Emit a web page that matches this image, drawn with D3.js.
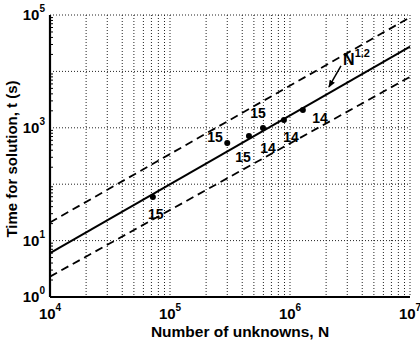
<!DOCTYPE html>
<html>
<head>
<meta charset="utf-8">
<script src="https://cdn.jsdelivr.net/npm/d3@7"></script>
<style>
  body { margin: 0; background: #fff; }
  svg { font-family: "Liberation Sans", Arial, sans-serif; font-weight: bold; }
</style>
</head>
<body>
<div id="chart"></div>
<script>
// fit line N^1.2 and the two bounds (end points)
const lineN = [1e4, 1e7];
const fitT = [6.0, 27500];
const upperT = [21, 91000];
const lowerT = [2.3, 8000];

// measured runs
const pointN = [7.2e4, 3.0e5, 4.55e5, 5.96e5, 8.9e5, 1.28e6];
const pointT = [59, 537, 716, 991, 1375, 2070];

// labels beside the runs
const labelText = ["15", "15", "15", "15", "14", "14", "14"];
const labelN = [7.6e4, 2.37e5, 5.41e5, 4.06e5, 6.56e5, 1.02e6, 1.78e6];
const labelT = [29.6, 687, 1830, 304, 438, 687, 1490];

const xTicks = [1e4, 1e5, 1e6, 1e7];
const yTicks = [1e0, 1e1, 1e3, 1e5];

const width = 420, height = 343;
const margin = { top: 15, right: 10, bottom: 46, left: 50 };
const w = width - margin.left - margin.right;
const h = height - margin.top - margin.bottom;

const svg = d3.select("#chart").append("svg")
  .attr("width", width).attr("height", height);
const g = svg.append("g")
  .attr("transform", "translate(" + margin.left + "," + margin.top + ")");

const x = d3.scaleLog().domain([1e4, 1e7]).range([0, w]);
const y = d3.scaleLog().domain([1e0, 1e5]).range([h, 0]);

// grid: every decade for y, every 1..9 for x
const xGrid = [];
for (let e = 4; e < 7; e++) for (let m = 1; m < 10; m++) xGrid.push(m * Math.pow(10, e));
xGrid.push(1e7);
const yGrid = [1e1, 1e2, 1e3, 1e4, 1e5];

g.selectAll(".vgrid").data(xGrid.slice(1)).enter().append("line")
  .attr("x1", d => x(d)).attr("x2", d => x(d))
  .attr("y1", 0).attr("y2", h)
  .attr("stroke", "#222").attr("stroke-width", 1).attr("stroke-dasharray", "1,2");
g.selectAll(".hgrid").data(yGrid).enter().append("line")
  .attr("x1", 0).attr("x2", w)
  .attr("y1", d => y(d)).attr("y2", d => y(d))
  .attr("stroke", "#222").attr("stroke-width", 1).attr("stroke-dasharray", "1,2");

// minor ticks on the y axis
const yMinor = [];
for (let e = 0; e < 5; e++) for (let m = 2; m < 10; m++) yMinor.push(m * Math.pow(10, e));
g.selectAll(".ym").data(yMinor).enter().append("line")
  .attr("x1", 0).attr("x2", 3)
  .attr("y1", d => y(d)).attr("y2", d => y(d))
  .attr("stroke", "#000").attr("stroke-width", 1);

// lines
const lineGen = d3.line().x(d => x(d[0])).y(d => y(d[1]));
g.append("path").datum(d3.zip(lineN, fitT)).attr("d", lineGen)
  .attr("fill", "none").attr("stroke", "#000").attr("stroke-width", 2);
[upperT, lowerT].forEach(t => {
  g.append("path").datum(d3.zip(lineN, t)).attr("d", lineGen)
    .attr("fill", "none").attr("stroke", "#000").attr("stroke-width", 1.8)
    .attr("stroke-dasharray", "8,5");
});

// points
g.selectAll(".pt").data(d3.zip(pointN, pointT)).enter().append("circle")
  .attr("cx", d => x(d[0])).attr("cy", d => y(d[1])).attr("r", 3)
  .attr("fill", "#000");

g.selectAll(".lab").data(d3.zip(labelN, labelT, labelText)).enter().append("text")
  .attr("x", d => x(d[0])).attr("y", d => y(d[1]))
  .attr("dy", "0.35em").attr("text-anchor", "middle")
  .attr("font-size", 14).text(d => d[2]);

// N^1.2 annotation with arrow
const annN = 2.77e6, annT = 13000;
const ann = g.append("text").attr("x", x(annN)).attr("y", y(annT)).attr("font-size", 16);
ann.append("tspan").text("N");
ann.append("tspan").attr("dy", -8).attr("font-size", 11).text("1.2");
svg.append("defs").append("marker").attr("id", "arr")
  .attr("viewBox", "0 0 10 10").attr("refX", 9).attr("refY", 5)
  .attr("markerWidth", 5).attr("markerHeight", 5).attr("orient", "auto")
  .append("path").attr("d", "M0,1L10,5L0,9Z").attr("fill", "#000");
g.append("line")
  .attr("x1", x(2.66e6)).attr("y1", y(12470))
  .attr("x2", x(2.11e6)).attr("y2", y(5290))
  .attr("stroke", "#000").attr("stroke-width", 1.5).attr("marker-end", "url(#arr)");

// axes lines
g.append("line").attr("x1", 0).attr("x2", 0).attr("y1", 0).attr("y2", h)
  .attr("stroke", "#000").attr("stroke-width", 2.2);
g.append("line").attr("x1", 0).attr("x2", w).attr("y1", h).attr("y2", h)
  .attr("stroke", "#000").attr("stroke-width", 2.2);

// tick labels
const exp = d => Math.round(Math.log10(d));
const xl = g.selectAll(".xl").data(xTicks).enter().append("text")
  .attr("x", d => x(d)).attr("y", h + 22).attr("text-anchor", "middle")
  .attr("font-size", 15);
xl.append("tspan").text("10");
xl.append("tspan").attr("dy", -8).attr("font-size", 10).text(d => exp(d));

const yl = g.selectAll(".yl").data(yTicks).enter().append("text")
  .attr("x", -5).attr("y", d => y(d) + 5).attr("text-anchor", "end")
  .attr("font-size", 15);
yl.append("tspan").text("10");
yl.append("tspan").attr("dy", -8).attr("font-size", 10).text(d => exp(d));

// axis titles
svg.append("text").attr("x", margin.left + w / 2 + 10).attr("y", 337)
  .attr("text-anchor", "middle").attr("font-size", 15.5)
  .text("Number of unknowns, N");
svg.append("text")
  .attr("transform", "translate(17," + (margin.top + h / 2 + 3) + ") rotate(-90)")
  .attr("text-anchor", "middle").attr("font-size", 15)
  .text("Time for solution, t (s)");
</script>
</body>
</html>
